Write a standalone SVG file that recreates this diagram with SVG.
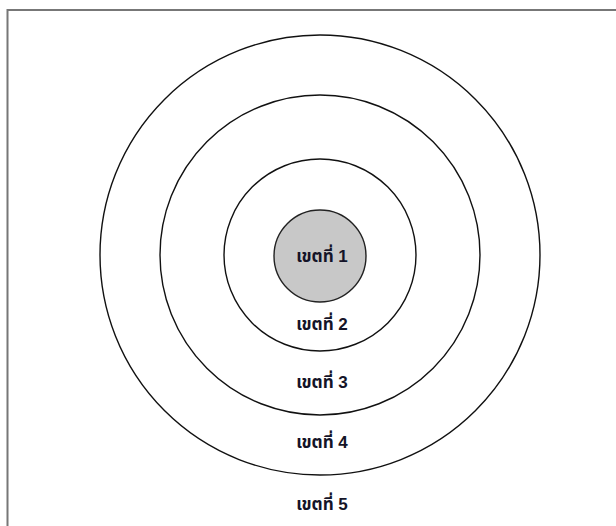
<svg xmlns="http://www.w3.org/2000/svg" width="616" height="526" viewBox="0 0 616 526">
  <style>
    .ring { fill: none; stroke: #111; stroke-width: 1.4; }
    .core { fill: #c8c8c8; stroke: #222; stroke-width: 1.4; }
    .lbl { font-family: "Liberation Sans", "Noto Sans Thai", "Tahoma", "DejaVu Sans", sans-serif; font-size: 17px; font-weight: bold; fill: #141428; text-anchor: middle; }
  </style>
  <rect x="0" y="0" width="616" height="526" fill="#ffffff"/>
  <rect id="frame" x="7.5" y="10" width="700" height="600" fill="none" stroke="#777" stroke-width="2"/>
  <g id="zone5">
    <text class="lbl" x="322" y="510">เขตที่ 5</text>
  </g>
  <g id="zone4">
    <circle class="ring" cx="320" cy="255" r="220"/>
    <text class="lbl" x="322" y="448">เขตที่ 4</text>
  </g>
  <g id="zone3">
    <circle class="ring" cx="320" cy="255" r="160"/>
    <text class="lbl" x="322" y="388">เขตที่ 3</text>
  </g>
  <g id="zone2">
    <circle class="ring" cx="320" cy="255" r="96"/>
    <text class="lbl" x="322" y="330">เขตที่ 2</text>
  </g>
  <g id="zone1">
    <circle class="core" cx="320" cy="256" r="46"/>
    <text class="lbl" x="322" y="262">เขตที่ 1</text>
  </g>
  <g id="connectors"></g>
</svg>
